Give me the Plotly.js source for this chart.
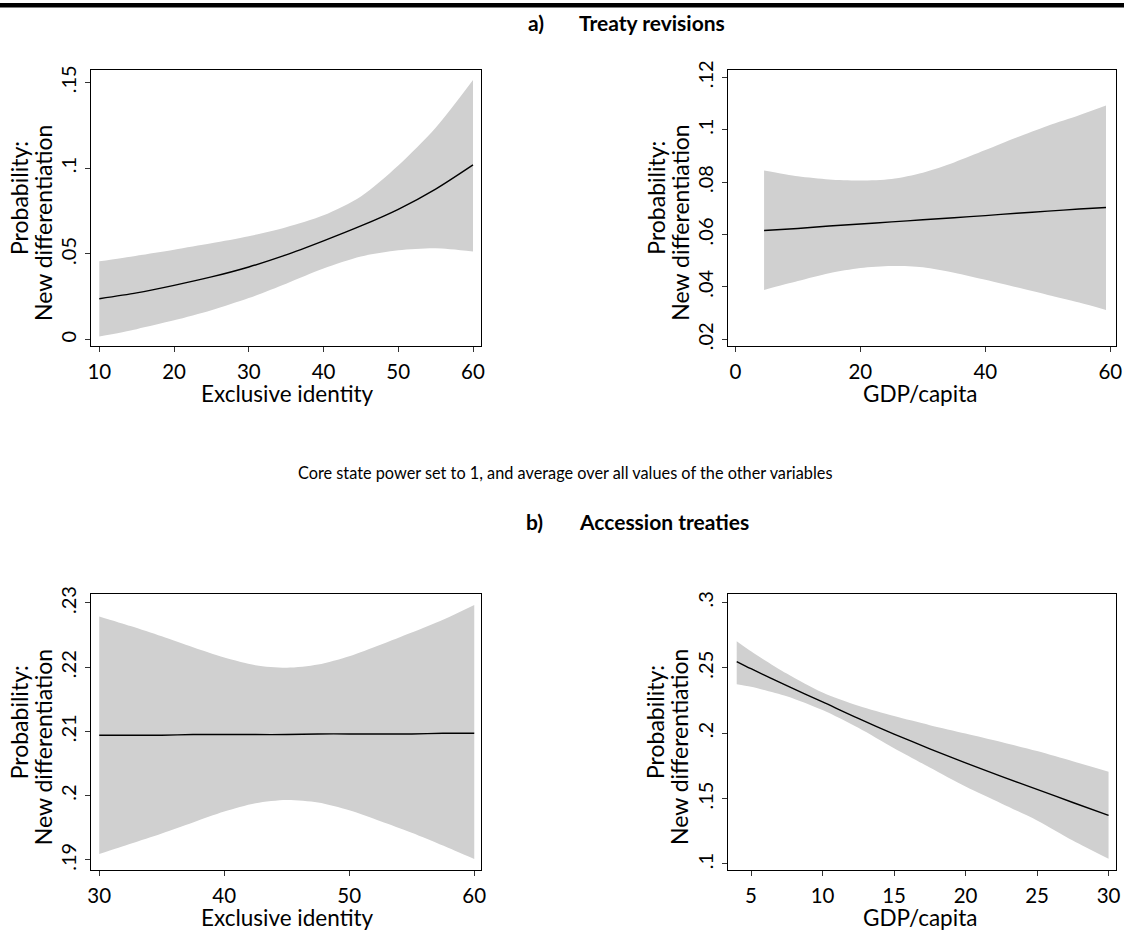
<!DOCTYPE html>
<html><head><meta charset="utf-8">
<script src="https://cdn.plot.ly/plotly-3.0.1.min.js"></script>
<style>html,body{margin:0;padding:0;background:#fff}#chart{width:1124px;height:930px}</style>
</head><body><div id="chart"></div>
<script>
// Panel a-left: Treaty revisions, Exclusive identity
const aIdX = [10, 15, 20, 25, 30, 35, 40, 45, 50, 55, 60];
const aIdMean = [0.0239, 0.0273, 0.0317, 0.0366, 0.0424, 0.0494, 0.0576, 0.0663, 0.0760, 0.0878, 0.1019];
const aIdUpper = [0.0457, 0.0490, 0.0525, 0.0562, 0.0603, 0.0655, 0.0725, 0.0835, 0.1015, 0.1235, 0.1513];
const aIdLower = [0.0019, 0.0062, 0.0113, 0.0172, 0.0243, 0.0327, 0.0415, 0.0485, 0.0521, 0.0533, 0.0514];
// Panel a-right: Treaty revisions, GDP/capita
const aGdpX = [4.6, 10, 15, 20, 25, 30, 35, 40, 45, 50, 55, 59.3];
const aGdpMean = [0.0615, 0.0623, 0.0632, 0.0640, 0.0648, 0.0656, 0.0664, 0.0672, 0.0681, 0.0689, 0.0697, 0.0703];
const aGdpUpper = [0.0844, 0.0822, 0.0810, 0.0806, 0.0812, 0.0836, 0.0875, 0.0922, 0.0970, 0.1015, 0.1055, 0.1092];
const aGdpLower = [0.0388, 0.0422, 0.0452, 0.0472, 0.0480, 0.0475, 0.0454, 0.0427, 0.0398, 0.0369, 0.0340, 0.0312];
// Panel b-left: Accession treaties, Exclusive identity
const bIdX = [30, 32.5, 35, 37.5, 40, 42.5, 45, 47.5, 50, 52.5, 55, 57.5, 60];
const bIdMean = [0.2094, 0.2094, 0.2094, 0.2095, 0.2095, 0.2095, 0.2095, 0.2096, 0.2096, 0.2096, 0.2096, 0.2097, 0.2097];
const bIdUpper = [0.2279, 0.2264, 0.2248, 0.2231, 0.2215, 0.2203, 0.2199, 0.2204, 0.2217, 0.2235, 0.2254, 0.2274, 0.2297];
const bIdLower = [0.1909, 0.1925, 0.1941, 0.1958, 0.1975, 0.1988, 0.1993, 0.1989, 0.1977, 0.1960, 0.1942, 0.1922, 0.1901];
// Panel b-right: Accession treaties, GDP/capita
const bGdpX = [4, 5, 7.5, 10, 12.5, 15, 17.5, 20, 22.5, 25, 27.5, 30];
const bGdpMean = [0.2547, 0.2492, 0.2362, 0.2238, 0.2112, 0.1993, 0.1880, 0.1773, 0.1669, 0.1570, 0.1470, 0.1372];
const bGdpUpper = [0.2702, 0.2625, 0.2455, 0.2310, 0.2209, 0.2130, 0.2061, 0.1997, 0.1932, 0.1863, 0.1785, 0.1705];
const bGdpLower = [0.2374, 0.2354, 0.2282, 0.2176, 0.2041, 0.1885, 0.1738, 0.1592, 0.1463, 0.1333, 0.1180, 0.1040];

const xTicksAId = [10, 20, 30, 40, 50, 60];
const yTicksAId = [0, 0.05, 0.1, 0.15];
const yTextAId = ['0', '.05', '.1', '.15'];
const xTicksAGdp = [0, 20, 40, 60];
const yTicksAGdp = [0.02, 0.04, 0.06, 0.08, 0.1, 0.12];
const yTextAGdp = ['.02', '.04', '.06', '.08', '.1', '.12'];
const xTicksBId = [30, 40, 50, 60];
const yTicksBId = [0.19, 0.2, 0.21, 0.22, 0.23];
const yTextBId = ['.19', '.2', '.21', '.22', '.23'];
const xTicksBGdp = [5, 10, 15, 20, 25, 30];
const yTicksBGdp = [0.1, 0.15, 0.2, 0.25, 0.3];
const yTextBGdp = ['.1', '.15', '.2', '.25', '.3'];

const xTitleId = 'Exclusive identity';
const xTitleGdp = 'GDP/capita';
const yTitle1 = 'Probability:';
const yTitle2 = 'New differentiation';

const FONT = 'Lato, "Open Sans", sans-serif';
const W = 1124, H = 930;
const px = v => v / W;
const py = v => 1 - v / H;

function band(x, lo, hi, mean, xa, ya) {
  return [
    {x: x, y: lo, xaxis: xa, yaxis: ya, mode: 'lines', line: {width: 0, shape: 'spline', smoothing: 0.8, color: 'rgba(0,0,0,0)'}, hoverinfo: 'skip', showlegend: false},
    {x: x, y: hi, xaxis: xa, yaxis: ya, mode: 'lines', fill: 'tonexty', fillcolor: '#d0d0d0', line: {width: 0, shape: 'spline', smoothing: 0.8, color: 'rgba(0,0,0,0)'}, hoverinfo: 'skip', showlegend: false},
    {x: x, y: mean, xaxis: xa, yaxis: ya, mode: 'lines', line: {width: 1.4, shape: 'spline', smoothing: 0.8, color: '#000'}, showlegend: false}
  ];
}

const data = [].concat(
  band(aIdX, aIdLower, aIdUpper, aIdMean, 'x', 'y'),
  band(aGdpX, aGdpLower, aGdpUpper, aGdpMean, 'x2', 'y2'),
  band(bIdX, bIdLower, bIdUpper, bIdMean, 'x3', 'y3'),
  band(bGdpX, bGdpLower, bGdpUpper, bGdpMean, 'x4', 'y4')
);

function xax(dom, rng, ticks, anchor) {
  return {domain: dom, range: rng, anchor: anchor, tickvals: ticks, ticktext: ticks.map(String),
    showline: true, mirror: true, linecolor: '#000', linewidth: 1, ticks: 'outside', ticklen: 5,
    tickcolor: '#333', tickwidth: 1, showgrid: false, zeroline: false, ticklabelstandoff: 2,
    tickfont: {family: FONT, size: 20.5, color: '#000'}, fixedrange: true};
}
function yax(dom, rng, ticks, text, anchor) {
  return {domain: dom, range: rng, anchor: anchor, tickvals: ticks, ticktext: text,
    showline: true, mirror: true, linecolor: '#000', linewidth: 1, ticks: 'outside', ticklen: 5,
    tickcolor: '#333', tickwidth: 1, showgrid: false, zeroline: false, tickangle: -90, ticklabelstandoff: 1,
    tickfont: {family: FONT, size: 20, color: '#000'}, fixedrange: true};
}

const colL = [px(91), px(481)];
const colR = [px(727.7), px(1116)];
const rowT = [py(346.3), py(69.7)];
const rowB = [py(870), py(594)];

const ann = [];
function addText(text, x, y, opts) {
  ann.push(Object.assign({text: text, x: px(x), y: py(y), xref: 'paper', yref: 'paper', showarrow: false,
    xanchor: 'center', yanchor: 'middle', font: {family: FONT, size: 22.5, color: '#000'}}, opts || {}));
}
const yt = {textangle: -90, font: {family: FONT, size: 23, color: '#000'}};
[[0, 0], [636.7, 0], [0, 524.3], [636.7, 524.3]].forEach(([dx, dy]) => {
  addText(yTitle1, 19 + dx, 198 + dy, yt);
  addText(yTitle2, 43 + dx, 223 + dy, yt);
});
addText(xTitleId, 287, 394);
addText(xTitleGdp, 920, 394);
addText(xTitleId, 287, 917);
addText(xTitleGdp, 920, 917);
const tf = {family: FONT, size: 21, color: '#000'};
addText('<b>a)</b>', 536, 22, {font: tf});
addText('<b>Treaty revisions</b>', 577, 22, {xanchor: 'left', font: tf});
addText('<b>b)</b>', 534, 521, {font: tf});
addText('<b>Accession treaties</b>', 577, 521, {xanchor: 'left', font: tf});
addText('Core state power set to 1, and average over all values of the other variables', 565, 472, {font: {family: FONT, size: 16.3, color: '#000'}});

const layout = {
  width: W, height: H, margin: {l: 0, r: 0, t: 0, b: 0}, paper_bgcolor: '#fff', plot_bgcolor: '#fff',
  showlegend: false,
  xaxis: xax(colL, [8.89, 61.07], xTicksAId, 'y'),
  yaxis: yax(rowT, [-0.0038, 0.1573], yTicksAId, yTextAId, 'x'),
  xaxis2: xax(colR, [-1.22, 60.9], xTicksAGdp, 'y2'),
  yaxis2: yax(rowT, [0.0173, 0.1229], yTicksAGdp, yTextAGdp, 'x2'),
  xaxis3: xax(colL, [29.34, 60.54], xTicksBId, 'y3'),
  yaxis3: yax(rowB, [0.1884, 0.2314], yTicksBId, yTextBId, 'x3'),
  xaxis4: xax(colR, [3.37, 30.52], xTicksBGdp, 'y4'),
  yaxis4: yax(rowB, [0.0954, 0.3063], yTicksBGdp, yTextBGdp, 'x4'),
  annotations: ann,
  shapes: [{type: 'rect', xref: 'paper', yref: 'paper', x0: 0, x1: 1, y0: py(7.5), y1: py(3), fillcolor: '#000', line: {width: 0}}]
};

Plotly.newPlot('chart', data, layout, {displayModeBar: false, staticPlot: true});
</script></body></html>
